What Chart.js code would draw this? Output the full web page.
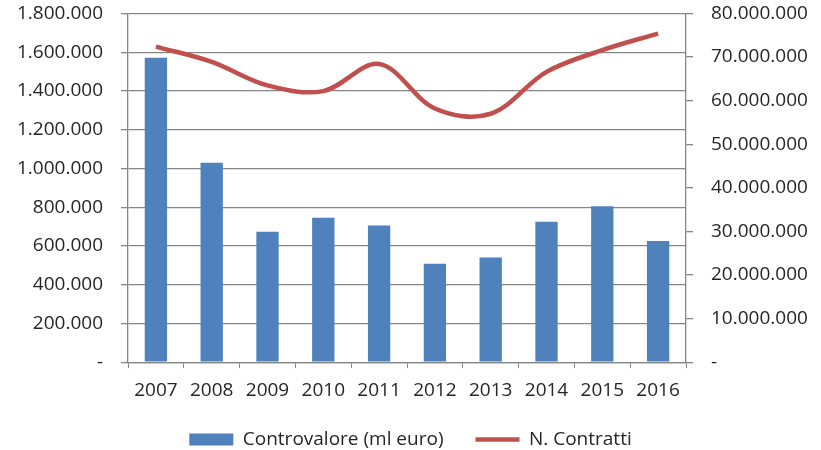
<!DOCTYPE html>
<html>
<head>
<meta charset="utf-8">
<script src="https://cdn.jsdelivr.net/npm/chart.js@4"></script>
<style>
  html, body { margin: 0; padding: 0; background: #fff; }
  #wrap { width: 821px; height: 450px; position: relative; }
</style>
</head>
<body>
<div id="wrap"><canvas id="c" width="821" height="450"></canvas></div>
<script>
const years = ['2007','2008','2009','2010','2011','2012','2013','2014','2015','2016'];
const controvalore = [1571000, 1029000, 673000, 746000, 706000, 508000, 540000, 725000, 805000, 625000];
const contratti = [72400000, 68900000, 63500000, 62200000, 68400000, 58200000, 57000000, 66600000, 71600000, 75400000];
const leftTicks = [0, 1800000, 200000];
const rightTicks = [0, 80000000, 10000000];

function fmt(v) {
  if (v === 0) return '-';
  return String(Math.round(v)).replace(/\B(?=(\d{3})+(?!\d))/g, '.');
}

const FONT = { family: '"Open Sans", Lato, sans-serif', size: 19 };
const GRID = '#868686';
const TXT = '#262626';

new Chart(document.getElementById('c'), {
  data: {
    labels: years,
    datasets: [
      {
        type: 'line',
        label: 'N. Contratti',
        data: contratti,
        yAxisID: 'y2',
        borderColor: '#C0504D',
        backgroundColor: '#C0504D',
        borderWidth: 4.5,
        pointRadius: 0,
        pointStyle: 'line',
        tension: 0.35,
        order: 0
      },
      {
        type: 'bar',
        label: 'Controvalore (ml euro)',
        data: controvalore,
        yAxisID: 'y',
        backgroundColor: '#4F81BD',
        borderWidth: 0,
        pointStyle: 'rect',
        categoryPercentage: 1.0,
        barPercentage: 0.4,
        order: 1
      }
    ]
  },
  options: {
    responsive: false,
    animation: false,
    devicePixelRatio: 1,
    layout: { padding: { top: 13.5, bottom: -9, left: 0, right: 0 } },
    plugins: {
      tooltip: { enabled: false },
      legend: {
        position: 'bottom',
        reverse: true,
        labels: {
          usePointStyle: true,
          pointStyleWidth: 44,
          boxHeight: 12,
          padding: 32,
          color: TXT,
          font: FONT
        }
      }
    },
    scales: {
      x: {
        offset: true,
        afterFit: (s) => { s.height = s.height - 15; },
        grid: { display: true, drawOnChartArea: false, drawTicks: true, tickLength: 6, color: GRID, offset: true },
        border: { display: true, color: GRID, width: 1.3 },
        ticks: { color: TXT, font: FONT, padding: 11, maxRotation: 0 }
      },
      y: {
        position: 'left',
        min: leftTicks[0],
        max: leftTicks[1],
        afterFit: (s) => { s.width = 128; s.paddingTop = 0; s.paddingBottom = 0; },
        ticks: { stepSize: leftTicks[2], color: TXT, font: FONT, padding: 18, callback: (v) => fmt(v) },
        grid: { color: GRID, lineWidth: 1.3, tickLength: 7 },
        border: { display: true, color: GRID, width: 1.3 }
      },
      y2: {
        position: 'right',
        min: rightTicks[0],
        max: rightTicks[1],
        afterFit: (s) => { s.width = 135; s.paddingTop = 0; s.paddingBottom = 0; },
        ticks: { stepSize: rightTicks[2], color: TXT, font: FONT, padding: 18, callback: (v) => fmt(v) },
        grid: { drawOnChartArea: false, color: GRID, lineWidth: 1.3, tickLength: 7 },
        border: { display: true, color: GRID, width: 1.3 }
      }
    }
  }
});
</script>
</body>
</html>
